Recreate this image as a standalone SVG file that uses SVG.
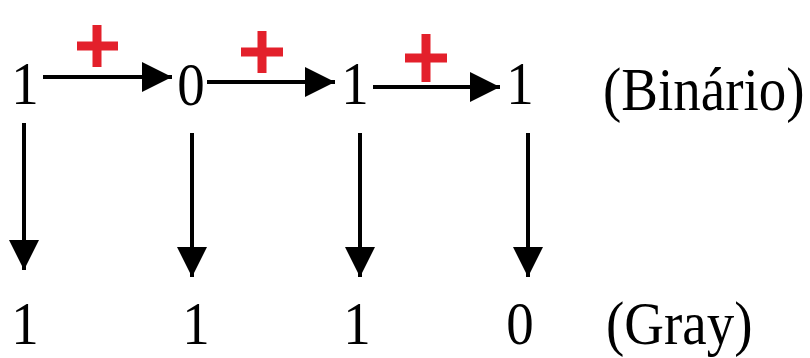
<svg xmlns="http://www.w3.org/2000/svg" width="810" height="358" viewBox="0 0 810 358">
<style>
.t{font-family:"Liberation Serif","Times New Roman",serif;font-size:55px;fill:#000}
.c{stroke:#000;stroke-width:4;fill:none}
.p{stroke:#e3202b;stroke-width:9;fill:none}
</style>
<defs>
<marker id="ah" viewBox="0 0 10 10" refX="10" refY="5" markerWidth="7.5" markerHeight="7.5" markerUnits="strokeWidth" orient="auto">
<path d="M0,0 L10,5 L0,10 Z" fill="#000"/>
</marker>
</defs>
<rect width="810" height="358" fill="#fff"/>
<g id="connectors">
<line class="c" x1="43" y1="77" x2="172" y2="77" marker-end="url(#ah)"/>
<line class="c" x1="207" y1="82" x2="335" y2="82" marker-end="url(#ah)"/>
<line class="c" x1="373" y1="87" x2="500" y2="87" marker-end="url(#ah)"/>
<line class="c" x1="24" y1="123" x2="24" y2="270" marker-end="url(#ah)"/>
<line class="c" x1="192" y1="133" x2="192" y2="277" marker-end="url(#ah)"/>
<line class="c" x1="360" y1="133" x2="360" y2="277" marker-end="url(#ah)"/>
<line class="c" x1="528" y1="133" x2="528" y2="277" marker-end="url(#ah)"/>
</g>
<g id="plus1"><path class="p" d="M77,46 H118 M97,25 V67"/></g>
<g id="plus2"><path class="p" d="M241,52 H283 M262,31 V73"/></g>
<g id="plus3"><path class="p" d="M405,58 H447 M426,34 V82"/></g>
<g id="b1"><text class="t" transform="translate(25,104) scale(1,1.12)" text-anchor="middle">1</text></g>
<g id="b2"><text class="t" transform="translate(191,105) scale(1,1.12)" text-anchor="middle">0</text></g>
<g id="b3"><text class="t" transform="translate(355,104) scale(1,1.12)" text-anchor="middle">1</text></g>
<g id="b4"><text class="t" transform="translate(520,104) scale(1,1.12)" text-anchor="middle">1</text></g>
<g id="binario"><text class="t" transform="translate(603,110) scale(1,1.12)">(Binário)</text></g>
<g id="g1"><text class="t" transform="translate(25,344) scale(1,1.12)" text-anchor="middle">1</text></g>
<g id="g2"><text class="t" transform="translate(196,344) scale(1,1.12)" text-anchor="middle">1</text></g>
<g id="g3"><text class="t" transform="translate(357,344) scale(1,1.12)" text-anchor="middle">1</text></g>
<g id="g4"><text class="t" transform="translate(520,344) scale(1,1.12)" text-anchor="middle">0</text></g>
<g id="gray"><text class="t" transform="translate(606,344) scale(1,1.12)">(Gray)</text></g>
</svg>
